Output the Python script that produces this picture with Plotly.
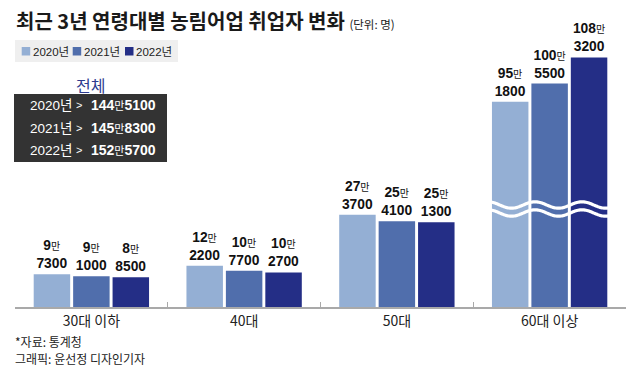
import numpy as np
import plotly.graph_objects as go

# ---------------- data ----------------
categories = ["30대 이하", "40대", "50대", "60대 이상"]
years = ["2020년", "2021년", "2022년"]
v2020 = [97300, 122200, 273700, 951800]
v2021 = [91000, 107700, 254100, 1005500]
v2022 = [88500, 102700, 251300, 1083200]
totals = [1445100, 1458300, 1525700]

series = [v2020, v2021, v2022]
colors = ["#94afd4", "#506eac", "#242e86"]

# ---------------- layout geometry ----------------
W, H = 640, 374
L, R, T, B = 15, 14, 15, 67
PW, PH = W - L - R, H - T - B


def px(x):
    return (x - L) / PW


def py(y):
    return (H - B - y) / PH


JUNCTION = 209          # pixel row where the axis is broken
LOW_MAX = 290800        # lower axis top value
HIGH_MIN = 633400       # upper axis bottom value
HIGH_MAX = 1209000      # upper axis top value

NUM_FONT = "Liberation Sans, Arial, Noto Sans CJK KR, sans-serif"
KR_FONT = "Noto Sans CJK KR, sans-serif"


def label(v):
    man, rest = divmod(v, 10000)
    return (f"<b>{man}</b><span style='font-size:10px'>만</span>"
            f"<br><b>{rest:04d}</b>")


def total_label(v):
    man, rest = divmod(v, 10000)
    return (f"<b>{man}</b><span style='font-size:11px'>만</span>"
            f"<b>{rest:04d}</b>")


fig = go.Figure()
n_low = 3
for i, (name, vals, c) in enumerate(zip(years, series, colors)):
    common = dict(name=name, marker=dict(color=c, line=dict(width=0)),
                  offsetgroup=str(i), showlegend=False, hoverinfo="skip",
                  textposition="outside", textangle=0, constraintext="none",
                  textfont=dict(family=NUM_FONT, size=13.8, color="#111111"))
    # lower part, small categories (labels may overflow upward)
    fig.add_trace(go.Bar(x=categories[:n_low], y=vals[:n_low],
                         text=[label(v) for v in vals[:n_low]],
                         cliponaxis=False, xaxis="x", yaxis="y", **common))
    # lower part of the broken bars (clipped)
    fig.add_trace(go.Bar(x=categories[n_low:], y=vals[n_low:],
                         text=["" for _ in vals[n_low:]],
                         cliponaxis=True, xaxis="x", yaxis="y", **common))
    # upper part of the broken bars
    fig.add_trace(go.Bar(x=categories[n_low:], y=vals[n_low:],
                         text=[label(v) for v in vals[n_low:]],
                         cliponaxis=True, xaxis="x", yaxis="y2", **common))

shapes = []
annotations = []


# wave break marks
def wave_path(cy, amp=3.2, period=47.0, x0=489, x1=611, xpeak=535):
    xs = np.arange(x0, x1 + 0.5, 1.0)
    ys = cy - amp * np.cos(2 * np.pi * (xs - xpeak) / period)
    pts = [f"{px(x):.5f},{py(y):.5f}" for x, y in zip(xs, ys)]
    return "M" + " L".join(pts)


for cy in (205, 213):
    shapes.append(dict(type="path", xref="paper", yref="paper",
                       path=wave_path(cy), line=dict(color="white", width=3.2),
                       layer="above"))

# legend (custom)
shapes.append(dict(type="rect", xref="paper", yref="paper",
                   x0=px(15), x1=px(178), y0=py(62), y1=py(40),
                   fillcolor="#efefef", line=dict(width=0), layer="below"))
legend_x = [21.7, 72.7, 125]
for lx, name, c in zip(legend_x, years, colors):
    shapes.append(dict(type="rect", xref="paper", yref="paper",
                       x0=px(lx), x1=px(lx + 8.5), y0=py(55.5), y1=py(47),
                       fillcolor=c, line=dict(width=0)))
    annotations.append(dict(xref="paper", yref="paper", x=px(lx + 9.0), y=py(51.5),
                            xanchor="left", yanchor="middle", showarrow=False,
                            text=name, font=dict(family=NUM_FONT, size=11.5, color="#222")))

# title
annotations.append(dict(xref="paper", yref="paper", x=px(14), y=py(21),
                        xanchor="left", yanchor="middle", showarrow=False,
                        text="<b>최근 3년 연령대별 농림어업 취업자 변화</b> "
                             "<span style='font-size:11.5px'>(단위: 명)</span>",
                        font=dict(family=KR_FONT, size=20, color="#1a1a1a")))

# totals box
annotations.append(dict(xref="paper", yref="paper", x=px(90), y=py(85),
                        xanchor="center", yanchor="middle", showarrow=False,
                        text="전체", font=dict(family=KR_FONT, size=16, color="#2d3b8f")))
shapes.append(dict(type="rect", xref="paper", yref="paper",
                   x0=px(14), x1=px(167), y0=py(162), y1=py(94),
                   fillcolor="#333333", line=dict(width=0), layer="below"))
row_y = [105.5, 128, 150]
for ry, name, tot in zip(row_y, years, totals):
    annotations.append(dict(xref="paper", yref="paper", x=px(28), y=py(ry),
                            xanchor="left", yanchor="middle", showarrow=False,
                            text=name, font=dict(family=NUM_FONT, size=13.5, color="white")))
    annotations.append(dict(xref="paper", yref="paper", x=px(79), y=py(ry),
                            xanchor="center", yanchor="middle", showarrow=False,
                            text="&gt;", font=dict(family=NUM_FONT, size=11, color="white")))
    annotations.append(dict(xref="paper", yref="paper", x=px(89), y=py(ry),
                            xanchor="left", yanchor="middle", showarrow=False,
                            text=total_label(tot),
                            font=dict(family=NUM_FONT, size=14, color="white")))

# footer
annotations.append(dict(xref="paper", yref="paper", x=px(13), y=py(341),
                        xanchor="left", yanchor="middle", showarrow=False,
                        text="*자료: 통계청", font=dict(family=KR_FONT, size=12, color="#222")))
annotations.append(dict(xref="paper", yref="paper", x=px(13), y=py(358.5),
                        xanchor="left", yanchor="middle", showarrow=False,
                        text="그래픽: 윤선정 디자인기자",
                        font=dict(family=KR_FONT, size=12, color="#222")))

fig.update_layout(
    width=W, height=H,
    margin=dict(l=L, r=R, t=T, b=B, pad=0),
    paper_bgcolor="white", plot_bgcolor="white",
    barmode="group", bargap=0.2255, bargroupgap=0.075,
    showlegend=False,
    xaxis=dict(domain=[0, 1], anchor="y", range=[-0.5, 3.5],
               categoryorder="array", categoryarray=categories,
               showline=True, linecolor="#a9a9a9", linewidth=1.5,
               ticks="inside", tickson="boundaries", ticklen=5, tickwidth=1.2,
               tickcolor="#a9a9a9", showgrid=False, zeroline=False,
               tickfont=dict(family=KR_FONT, size=14, color="#222")),
    yaxis=dict(domain=[0, py(JUNCTION)], range=[0, LOW_MAX], anchor="x",
               visible=False, showgrid=False, zeroline=False),
    yaxis2=dict(domain=[py(JUNCTION), 1], range=[HIGH_MIN, HIGH_MAX], anchor="x",
                visible=False, showgrid=False, zeroline=False),
    shapes=shapes,
    annotations=annotations,
)

fig.write_html("out.html", config={"displayModeBar": False},
               post_script="document.body.style.margin='0';")
